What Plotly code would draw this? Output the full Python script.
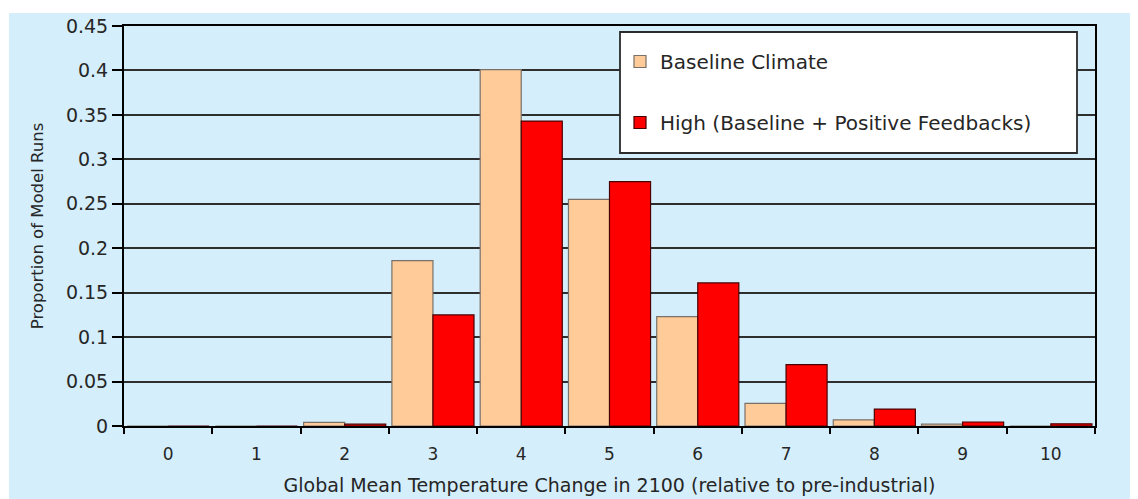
import plotly.graph_objects as go

categories = ["0", "1", "2", "3", "4", "5", "6", "7", "8", "9", "10"]
baseline_values = [0.0, 0.0, 0.004, 0.186, 0.401, 0.255, 0.123, 0.0255, 0.007, 0.002, 0.0]
high_values = [0.0, 0.0, 0.002, 0.125, 0.343, 0.275, 0.161, 0.069, 0.019, 0.0045, 0.0025]
y_ticks = [0, 0.05, 0.1, 0.15, 0.2, 0.25, 0.3, 0.35, 0.4, 0.45]
y_tick_labels = ["0", "0.05", "0.1", "0.15", "0.2", "0.25", "0.3", "0.35", "0.4", "0.45"]

BLUE = "#D5EEFB"
FONT = "DejaVu Sans, Arial, sans-serif"
TXT = "#262626"

fig = go.Figure()
fig.add_trace(go.Bar(
    x=categories, y=baseline_values, name="Baseline Climate",
    marker=dict(color="#FFCC99", line=dict(color="#7a7068", width=1.2)),
    legendgroup="a",
))
fig.add_trace(go.Bar(
    x=categories, y=high_values, name="High (Baseline + Positive Feedbacks)",
    marker=dict(color="#FF0000", line=dict(color="#4a0000", width=1.2)),
    legendgroup="b",
))

# page has an 8px body margin; plot area on screen: x 124..1095, y 26..426
W, H = 971.0, 400.0
def px(x):
    return (x - 124) / W
def py(y):
    return (426 - y) / H

shapes = [
    dict(type="rect", xref="paper", yref="paper", x0=px(9), x1=px(1150),
         y0=py(510), y1=py(13), fillcolor=BLUE, line=dict(width=0), layer="below"),
    dict(type="rect", xref="paper", yref="paper", x0=px(620), x1=px(1077),
         y0=py(153), y1=py(32), fillcolor="white",
         line=dict(color="#2b2b2b", width=1.8), layer="above"),
]

fig.update_layout(
    width=1130, height=491,
    margin=dict(l=116, r=43, t=18, b=73, autoexpand=False),
    paper_bgcolor="white", plot_bgcolor=BLUE,
    barmode="group", bargap=0.07, bargroupgap=0.0,
    font=dict(family=FONT, color=TXT, size=18),
    shapes=shapes,
    showlegend=True,
    legend=dict(
        x=px(620), y=py(42), xanchor="left", yanchor="top",
        bgcolor="rgba(0,0,0,0)", borderwidth=0,
        font=dict(family=FONT, size=20, color=TXT),
        traceorder="grouped", tracegroupgap=32,
    ),
)

fig.update_xaxes(
    type="category", tickson="boundaries", ticks="outside", ticklen=6, tickwidth=1.5,
    tickcolor="black", showline=True, linecolor="black", linewidth=2, mirror=True,
    showgrid=False, tickfont=dict(size=17, family=FONT, color=TXT),
    ticklabelstandoff=12, automargin=False,
    title=dict(text="Global Mean Temperature Change in 2100 (relative to pre-industrial)",
               font=dict(size=19, family=FONT, color=TXT), standoff=15),
)
fig.update_yaxes(
    range=[0, 0.45], tickvals=y_ticks, ticktext=y_tick_labels,
    ticks="outside", ticklen=10, tickwidth=1.5, tickcolor="black",
    showline=True, linecolor="black", linewidth=2, mirror=True,
    showgrid=True, gridcolor="#2e2e2e", gridwidth=1.5, zeroline=False,
    tickfont=dict(size=19, family=FONT, color=TXT),
    ticklabelstandoff=0, automargin=False,
    title=dict(text="Proportion of Model Runs",
               font=dict(size=16.5, family=FONT, color=TXT), standoff=18),
)

fig.write_html("out.html")
